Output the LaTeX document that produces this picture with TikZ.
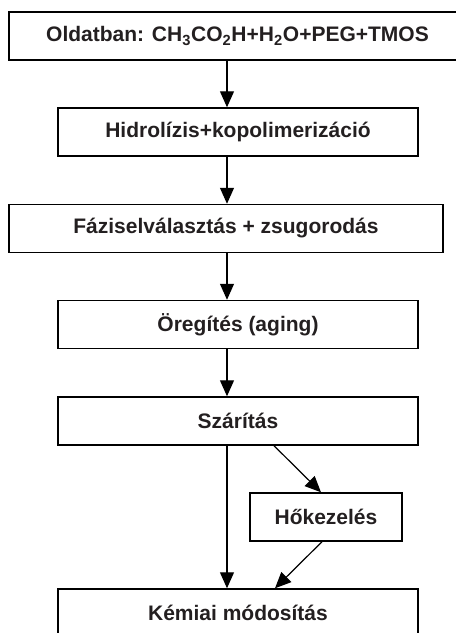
\documentclass[tikz,border=0pt]{standalone}
\usepackage{fontspec}
\setmainfont{Liberation Sans}
\usepackage{xcolor}
\usetikzlibrary{arrows.meta,positioning}

\definecolor{inkgray}{RGB}{35,31,32}

\begin{document}
\begin{tikzpicture}[
    x=0.75pt,
    y=-0.75pt,
    >={Triangle[length=12pt,width=10.5pt]},
    stepbox/.style={draw=black,line width=1.1pt,
        minimum height=36pt,inner sep=0pt,
        text=inkgray,
        font=\fontsize{15.75}{18}\selectfont\bfseries},
    flowline/.style={->,line width=0.9pt,draw=black}
]

% ---------------------------------------------------------
% Page frame
% ---------------------------------------------------------

\clip (0,0) rectangle (456,633);

% ---------------------------------------------------------
% Process steps
% ---------------------------------------------------------

\node[stepbox,minimum width=342.75pt] (solution) at (237.5,36)
    {Oldatban: CH\textsubscript{3}CO\textsubscript{2}H+H\textsubscript{2}O+PEG+TMOS};

\node[stepbox,minimum width=270pt] (hydrolysis) at (238,132)
    {Hidrolízis+kopolimerizáció};

\node[stepbox,minimum width=325.5pt] (separation) at (226,228.5)
    {Fáziselválasztás + zsugorodás};

\node[stepbox,minimum width=270pt] (aging) at (238,324.5)
    {Öregítés (aging)};

\node[stepbox,minimum width=270pt] (drying) at (238,421)
    {Szárítás};

\node[stepbox,minimum width=114pt] (heat) at (326,517)
    {Hőkezelés};

\node[stepbox,minimum width=270pt] (modify) at (238,613)
    {Kémiai módosítás};

% ---------------------------------------------------------
% Connectors
% ---------------------------------------------------------

\coordinate (spine) at (227,0);
\coordinate (branch) at (274,0);
\coordinate (heatin) at (321,0);
\coordinate (heatout) at (322,0);
\coordinate (merge) at (275,0);

\draw[flowline] (solution.south -| spine) -- (hydrolysis.north -| spine);
\draw[flowline] (hydrolysis.south -| spine) -- (separation.north -| spine);
\draw[flowline] (separation.south -| spine) -- (aging.north -| spine);
\draw[flowline] (aging.south -| spine) -- (drying.north -| spine);
\draw[flowline] (drying.south -| spine) -- (modify.north -| spine);

% side branch through heat treatment
\draw[flowline] (drying.south -| branch) -- (heat.north -| heatin);
\draw[flowline] (heat.south -| heatout) -- (modify.north -| merge);

\end{tikzpicture}
\end{document}
